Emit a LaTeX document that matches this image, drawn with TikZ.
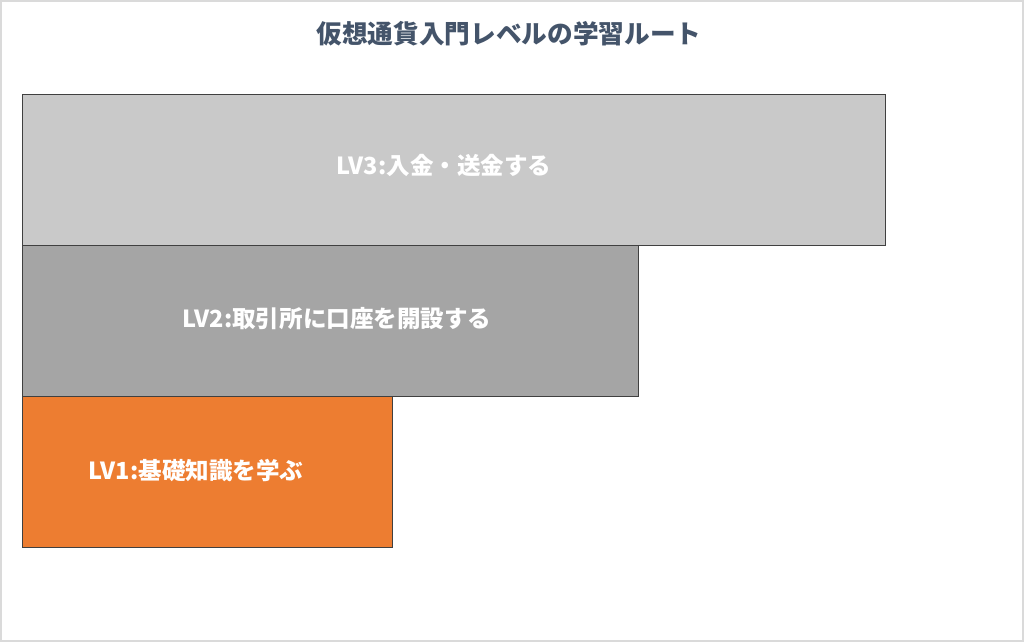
\documentclass[tikz,border=0pt]{standalone}
\usepackage{fontspec}
\setmainfont{Noto Sans CJK JP}
\usetikzlibrary{positioning}
\definecolor{titleblue}{HTML}{44546A}
\definecolor{lvthree}{HTML}{C9C9C9}
\definecolor{lvtwo}{HTML}{A5A5A5}
\definecolor{lvone}{HTML}{ED7D31}
\definecolor{framegray}{HTML}{DADADA}

\begin{document}
\begin{tikzpicture}[x=0.02cm,y=-0.02cm]
%% styles
\tikzstyle{level}=[rectangle,draw=black!75,line width=0.8pt,anchor=north west,minimum height=3.02cm,inner sep=0pt]
\tikzstyle{lvtext}=[text=white,font=\bfseries\fontsize{13.4}{16}\selectfont]
\tikzstyle{heading}=[text=titleblue,font=\bfseries\fontsize{14.6}{17}\selectfont]

%% frame
\useasboundingbox (0,0) rectangle (1024,642);
\draw[framegray,line width=1pt,fill=white] (0.9,0.9) rectangle (1023.1,641.1);

%% title
\node[heading] (title) at (509,34) {仮想通貨入門レベルの学習ルート};

%% levels
\foreach \name/\w/\y/\col in {3/17.26/94/lvthree,2/12.32/245/lvtwo,1/7.40/396/lvone}
\node[level,fill=\col,minimum width=\w cm] (L-\name) at (22,\y) {};
% labels
\foreach \name/\x/\y/\txt in {3/444/165/LV3:入金・送金する,2/337/319/LV2:取引所に口座を開設する,1/196/471/LV1:基礎知識を学ぶ}
\node[lvtext] (T-\name) at (\x,\y) {\txt};
\end{tikzpicture}
\end{document}
